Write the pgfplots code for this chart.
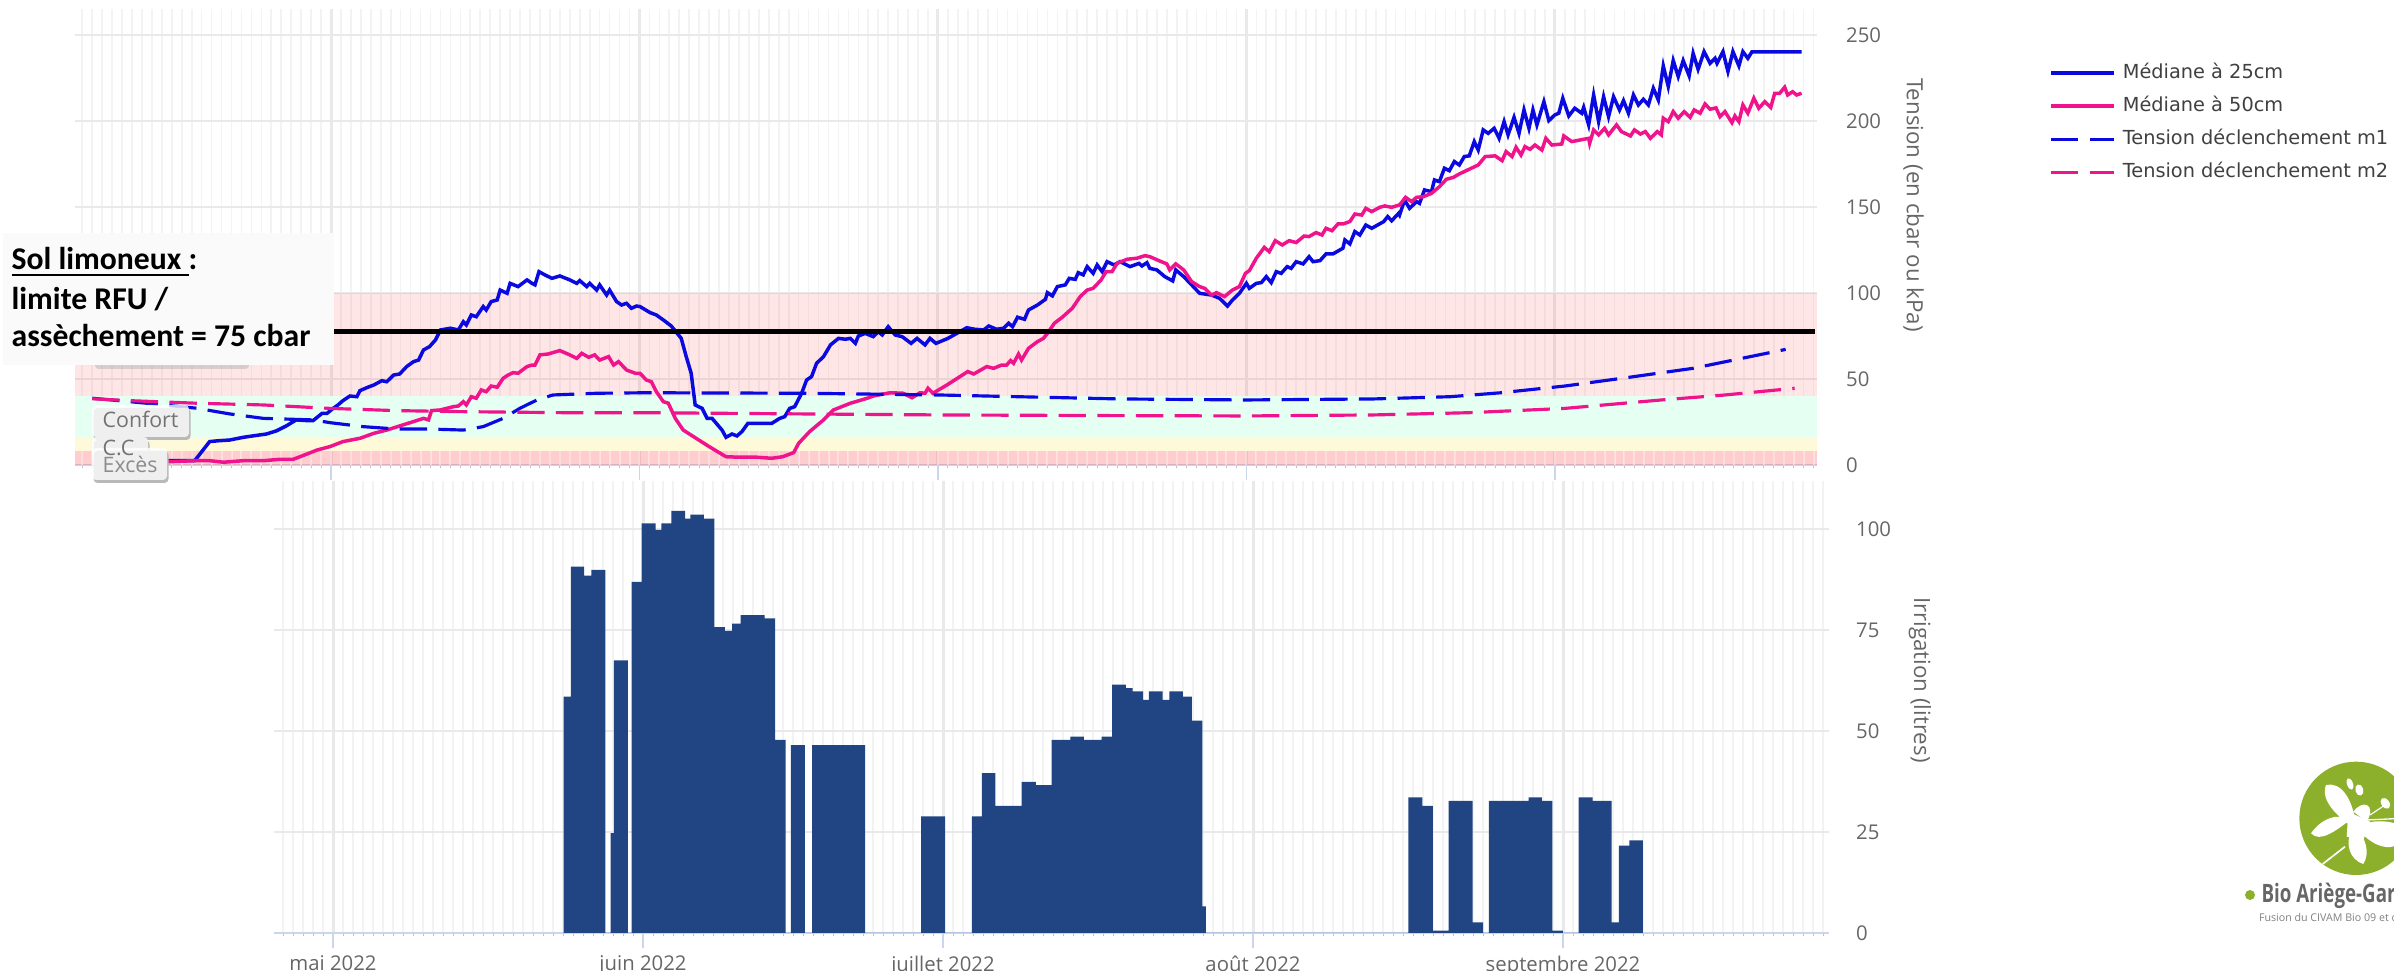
\documentclass[border=0pt]{standalone}
\usepackage{fontspec}
\setmainfont{Open Sans}
\newfontfamily\calib{Carlito}
\newfontfamily\legfont{DejaVu Sans}
\usepackage{pgfplots}
\pgfplotsset{compat=1.18}
\definecolor{gridc}{HTML}{E9E9E9}
\definecolor{minorc}{HTML}{F3F3F3}
\definecolor{axisc}{HTML}{CCD6EB}
\definecolor{labelc}{HTML}{666666}
\definecolor{blu}{HTML}{0A0AE0}
\definecolor{pnk}{HTML}{F0148C}
\definecolor{barc}{HTML}{214482}
\definecolor{logoc}{HTML}{8CB02C}
% 1 px of the reference = 0.3pt, x in days after 1 May 2022
\pgfplotsset{
  base/.style={
    scale only axis,
    axis x line=bottom, axis y line=right,
    axis line style={-},
    y axis line style={draw=none},
    x axis line style={draw=axisc,line width=.5pt},
    xtick={0,31,61,92,123},
    minor xtick={-25,-24,...,149},
    tick align=outside,
    major tick length=4.5pt, minor tick length=1pt,
    x tick style={draw=axisc,line width=.4pt},
    minor x tick style={draw=gray!50,line width=.3pt},
    y tick style={draw=none},
    xmajorgrids, xminorgrids, ymajorgrids,
    major x grid style={draw=gridc,line width=.9pt},
    minor x grid style={draw=minorc,line width=.5pt},
    major y grid style={draw=gridc,line width=.7pt},
    tick label style={font=\fontsize{6.1}{7}\selectfont,text=labelc},
    /pgf/number format/assume math mode=true,
  },
}
\begin{document}
\begin{tikzpicture}
\path[use as bounding box,clip] (0,0) rectangle (718.2pt,291.3pt);

\begin{axis}[base,
  at={(22.5pt,151.8pt)}, width=522.6pt, height=136.8pt,
  xmin=-25.73, xmax=149.35, ymin=0, ymax=265.1,
  ytick={0,50,100,150,200,250},
  yticklabel style={anchor=west,xshift=.7pt},
  xticklabels={},
  every axis y label/.style={at={(axis description cs:1.0555,0.57)},rotate=-90,anchor=center},
  ylabel={Tension (en cbar ou kPa)},
  ylabel style={font=\fontsize{6.7}{8}\selectfont,text=labelc},
  legend style={at={(1.133,0.898)},anchor=north west,draw=none,fill=none,
    font=\fontsize{5.8}{6.8}\legfont\color{black!75},row sep=-.2pt,
    inner sep=0pt},
  legend cell align=left,
  legend image code/.code={\draw[#1] (0pt,0pt) -- (19pt,0pt);},
]
% bands
\addplot[forget plot,fill=red!60!white,fill opacity=.16,draw=none] coordinates {(-25.73,8.3)(149.35,8.3)(149.35,100)(-25.73,100)} -- cycle;
\addplot[forget plot,fill=white,draw=none] coordinates {(-25.73,8.3)(149.35,8.3)(149.35,40.3)(-25.73,40.3)} -- cycle;
\addplot[forget plot,fill=green!50!cyan,fill opacity=.1,draw=none] coordinates {(-25.73,15.5)(149.35,15.5)(149.35,40.3)(-25.73,40.3)} -- cycle;
\addplot[forget plot,fill=yellow!80!orange,fill opacity=.15,draw=none] coordinates {(-25.73,8.3)(149.35,8.3)(149.35,15.5)(-25.73,15.5)} -- cycle;
\addplot[forget plot,fill=red!65!white,fill opacity=.3,draw=none] coordinates {(-25.73,0)(149.35,0)(149.35,8.3)(-25.73,8.3)} -- cycle;
% day stripes over the lowest band
\addplot[forget plot,ycomb,mark=none,white,opacity=.45,line width=.6pt] coordinates {
(-25,8.3)(-24,8.3)(-23,8.3)(-22,8.3)(-21,8.3)(-20,8.3)(-19,8.3)(-18,8.3)(-17,8.3)(-16,8.3)(-15,8.3)(-14,8.3)(-13,8.3)(-12,8.3)(-11,8.3)(-10,8.3)(-9,8.3)(-8,8.3)(-7,8.3)(-6,8.3)(-5,8.3)(-4,8.3)(-3,8.3)(-2,8.3)(-1,8.3)(0,8.3)(1,8.3)(2,8.3)(3,8.3)(4,8.3)(5,8.3)(6,8.3)(7,8.3)(8,8.3)(9,8.3)(10,8.3)(11,8.3)(12,8.3)(13,8.3)(14,8.3)(15,8.3)(16,8.3)(17,8.3)(18,8.3)(19,8.3)(20,8.3)(21,8.3)(22,8.3)(23,8.3)(24,8.3)(25,8.3)(26,8.3)(27,8.3)(28,8.3)(29,8.3)(30,8.3)(31,8.3)(32,8.3)(33,8.3)(34,8.3)(35,8.3)(36,8.3)(37,8.3)(38,8.3)(39,8.3)(40,8.3)(41,8.3)(42,8.3)(43,8.3)(44,8.3)(45,8.3)(46,8.3)(47,8.3)(48,8.3)(49,8.3)(50,8.3)(51,8.3)(52,8.3)(53,8.3)(54,8.3)(55,8.3)(56,8.3)(57,8.3)(58,8.3)(59,8.3)(60,8.3)(61,8.3)(62,8.3)(63,8.3)(64,8.3)(65,8.3)(66,8.3)(67,8.3)(68,8.3)(69,8.3)(70,8.3)(71,8.3)(72,8.3)(73,8.3)(74,8.3)(75,8.3)(76,8.3)(77,8.3)(78,8.3)(79,8.3)(80,8.3)(81,8.3)(82,8.3)(83,8.3)(84,8.3)(85,8.3)(86,8.3)(87,8.3)(88,8.3)(89,8.3)(90,8.3)(91,8.3)(92,8.3)(93,8.3)(94,8.3)(95,8.3)(96,8.3)(97,8.3)(98,8.3)(99,8.3)(100,8.3)(101,8.3)(102,8.3)(103,8.3)(104,8.3)(105,8.3)(106,8.3)(107,8.3)(108,8.3)(109,8.3)(110,8.3)(111,8.3)(112,8.3)(113,8.3)(114,8.3)(115,8.3)(116,8.3)(117,8.3)(118,8.3)(119,8.3)(120,8.3)(121,8.3)(122,8.3)(123,8.3)(124,8.3)(125,8.3)(126,8.3)(127,8.3)(128,8.3)(129,8.3)(130,8.3)(131,8.3)(132,8.3)(133,8.3)(134,8.3)(135,8.3)(136,8.3)(137,8.3)(138,8.3)(139,8.3)(140,8.3)(141,8.3)(142,8.3)(143,8.3)(144,8.3)(145,8.3)(146,8.3)(147,8.3)(148,8.3)(149,8.3)
};

\addplot[blu,line width=1.05pt] coordinates {
(-24,2.5)(-13.7,2.5)(-12.2,13.6)(-11.3,14.1)(-10.2,14.5)(-8.8,16.1)(-7.5,17.2)(-6.5,18)(-5.5,19.8)(-4.5,22.7)(-3.5,26.2)(-2.4,25.8)(-1.8,25.8)(-0.9,30)(-0.4,30)(0.1,32.4)(0.7,34.9)(1.2,37.4)(1.9,40.1)(2.6,39.7)(2.9,43.2)(3.7,45.2)(4.3,46.5)(5.1,49)(5.6,48.4)(6.3,52.3)(6.9,52.9)(7.6,57.2)(8.3,60.1)(8.8,61)(9.3,66.9)(9.9,68.8)(10.5,72.7)(11,78.5)(12,79.5)(12.8,78.5)(13.3,83.3)(13.6,81.4)(14.1,87.2)(14.6,86.2)(15.3,92.1)(15.6,90.1)(16.1,95)(16.7,95.9)(17,101.7)(17.7,99.8)(18,105.6)(18.8,103.7)(19.7,107.6)(20.2,105.6)(20.5,104.7)(20.9,112.4)(21.5,110.5)(22.2,108.5)(23,109.9)(24,107.6)(24.7,105.6)(25,107.2)(25.7,103.7)(26,105.6)(26.7,101.7)(27,104.7)(27.7,98.8)(28,101.7)(28.7,95)(29.2,93)(29.7,94)(30.2,91.1)(30.7,92.4)
(31.05,92.1)(32.06,88.6)(32.7,87.2)(33.4,84.3)(34.2,80.8)(35.2,73.6)(35.7,63)(36.2,53.3)(36.6,34.9)(37.3,32.9)(37.8,27.1)(38.3,27.1)(39.3,20.3)(39.7,16.1)(40.3,18)(40.8,16.9)(41.3,19.4)(41.9,24.2)(42.8,24.2)(44.3,24.2)(45.1,27.1)(45.6,28.1)(46.1,32.9)(46.6,33.9)(47.3,41.7)(47.8,49.4)(48.3,51.4)(48.8,59.1)(49.5,63)(50.2,69.8)(51,73.6)(51.7,73.1)(52.2,73.6)(52.7,70.7)(53,75)(53.7,76.5)(54.5,74.6)(55,77.5)(55.4,75.6)(56,80.4)(56.7,75.6)(57.4,74.6)(58.3,70.7)(58.9,73.6)(59.7,69.8)(60.2,73.6)(60.8,70.7)(62,73.6)(63.2,77.5)(63.9,79.8)(64.7,78.9)(65.6,78.5)(66.1,80.8)(66.9,78.9)(67.6,79.5)(68.1,82.4)(68.5,80.4)(69,85.9)(69.7,84.7)(70.1,90.1)(71,93)(71.8,96.3)(72,100.2)(72.5,98.3)(73,103.7)(73.8,104.7)(74.2,108.5)(74.8,107.9)(75.1,111.8)(75.6,110.5)(76,115.3)(76.6,111.4)(77,116.3)(77.5,112.4)(78,118.2)(78.7,116.3)(79.3,118.2)(80.3,115.3)(81.2,117.2)(81.5,115.7)(82,117.6)
(82.3,114.3)(83,113.4)(83.8,109.5)(84.6,107)(84.9,113.4)(85.7,109.5)(86.5,104.7)(87.3,99.8)(88.5,98.8)(89.3,96.9)(90.1,92.4)(90.6,95.9)(91.3,99.8)(92,105.6)(92.3,102.7)(93,105.6)(93.5,106)(94,109.5)(94.5,106)(95,112.4)(95.5,111.4)(96.1,115.3)(96.5,114.3)(97,118.2)(97.7,116.9)(98.3,121.1)(98.7,118.2)(99.4,118.8)(100,122.7)(100.7,122.7)(101.7,126)(101.9,130.8)(102.4,128.5)(102.9,135.7)(103.4,133.7)(104,139.5)(104.6,137.6)(105.8,141.5)(106.2,144.4)(106.6,142)(107.3,146.3)(107.4,145.3)(107.9,154)(108.4,149.2)(109.1,153.1)(109.4,152.1)(109.9,159.9)(110.6,158.9)(110.9,165.7)(111.4,164.7)(111.9,172.5)(112.4,171.1)(112.9,176.4)(113.4,174.4)(113.9,179.3)(114.4,179.7)(114.9,188)(115.3,183.1)
(115.8,194.8)(116.3,192.8)(116.9,195.7)(117.4,189.9)(117.9,199.6)(118.3,191.9)(118.9,202.1)(119.4,192.8)(119.9,206.4)(120.4,195.7)(120.8,206.4)(121.2,197.7)(121.9,211.2)(122.4,200.2)(123,203.5)(123.4,204.5)(123.8,213.2)(124.4,202.9)(125,207.4)(125.7,204.5)(125.9,207.9)(126.4,197.7)(126.9,215.1)(127.4,199.6)(127.9,214.1)(128.4,202.5)(128.9,214.1)(129.5,206.4)(129.9,211.8)(130.4,204.5)(130.9,215.1)(131.4,209.3)(131.9,212.6)(132.4,209.3)(132.9,219)(133.4,212.2)(133.9,232)(134.4,220)(134.9,235.1)(135.4,225.8)(135.9,235.1)(136.5,226.2)(136.9,239.3)(137.4,230)(138,240.3)(138.6,233.5)(139.1,236.4)(139.3,233.5)(139.9,240.3)(140.4,228.7)(140.9,240.3)(141.5,232)(141.9,240.3)(142.4,236.4)(142.8,240.1)(147.8,240.1)
};
\addlegendentry{Médiane à 25cm}

\addplot[pnk,line width=1.05pt] coordinates {
(-24,2.5)(-16.3,1.9)(-13.7,2.5)(-12.2,2.5)(-10.8,1.6)(-8.8,2.5)(-6.8,2.5)(-5.1,3.3)(-3.8,3.3)(-2.4,6.4)(-1.4,8.7)(-0.1,10.7)(1.2,13.6)(2.9,15.5)(4.3,18.4)(5.6,20.3)(6.9,22.7)(8.6,25.8)(9.3,27.1)(9.8,26.2)(10.1,31.6)(11,32)(12.3,33.9)(12.8,34.3)(13.3,36.8)(13.6,34.9)(14.1,39.7)(14.6,38.8)(15.1,43.6)(15.6,42.6)(16.1,45.9)(16.7,45.2)(17.3,50.4)(17.8,52.3)(18.3,53.7)(18.8,53.3)(19.7,57.2)(20.2,58.1)(20.5,58.1)(21,64)(21.8,64.5)(23,66.5)(24,64)(24.7,62)(25.2,64.9)(25.9,62.6)(26.5,64)(27,61)(27.9,63)(28.4,58.1)(28.9,60.1)(29.7,55.2)(30.6,53.3)
(31.05,53.3)(31.7,49.4)(32.2,48.4)(32.7,42.6)(33.4,36.8)(33.9,35.9)(34.6,27.1)(35.4,20.3)(36.7,15.5)(38,10.7)(39.7,4.8)(41.1,4.5)(42.8,4.5)(44.3,3.9)(45.4,4.8)(46.5,7.2)(47,12.6)(48.1,19.4)(49.5,26.2)(50.5,32)(52.2,35.9)(53.9,38.8)(54.5,40.1)(56.2,42)(57.5,41.7)(58.4,39.1)(59.2,42)(59.7,41.7)(60,44.6)(60.5,41.7)(61.9,46.5)(64,54.3)(64.6,52.9)(65.9,57.2)(66.6,56.2)(67.4,58.1)(67.9,58.1)(68.3,60.7)(68.6,59.1)(69.1,64.5)(69.4,61)(70.1,67.8)(71,71.7)(71.6,73.6)(72,76.5)(72.7,82.4)(73.5,85.9)(74.5,91.1)(75.3,97.9)(76,101.7)(76.6,102.7)(77.4,107.6)(77.9,112.4)(78.5,112.4)(79,117.2)(80,119.6)(81,120.2)(81.8,121.7)
(82.3,121.1)(83.2,118.8)(84,116.9)(84.3,113.4)(84.9,116.9)(85.7,113.4)(86.5,106.6)(87.3,103.7)(87.8,102.7)(88.5,98.8)(89,100.2)(89.8,97.9)(90.6,101.7)(91.3,103.7)(91.9,111.4)(92.3,113)(93,120.2)(93.8,126.5)(94.3,124)(94.9,130.4)(95.6,127.9)(96.3,130.4)(97,129.3)(97.8,133.1)(98.3,132.8)(99,135.1)(99.6,133.7)(100,137.6)(100.6,136.2)(101.2,140.1)(101.7,140.1)(102.4,141.5)(102.9,145.9)(103.6,145.3)(104,149.2)(104.6,147.3)(105.4,149.8)(105.9,150.6)(106.6,149.8)(107.4,151.2)(108,155.6)(108.6,153.1)(109.1,155.6)(109.8,156)(110.6,157.9)(111.4,161.8)(112.1,166.1)(112.8,167.2)(113.4,169.2)(114.6,172.5)(115.3,174.4)
(116,179.3)(117,179.7)(117.7,176.9)(118.1,182.2)(118.7,179.3)(119.1,184.7)(119.6,180.2)(120,185.1)(120.5,183.5)(121,186)(121.7,183.1)(122.1,189.9)(122.7,186)(123.7,186.6)(123.9,191.3)(124.7,188)(126.4,189.9)(126.5,187)(126.9,194.8)(127.4,191.9)(128,195.7)(128.4,191.9)(129.2,197.7)(129.7,193.8)(130.6,191.3)(131,194.8)(131.6,192.4)(132.1,193.8)(132.6,189.9)(133.3,193.8)(133.7,191.9)(133.9,201.6)(134.4,199.6)(134.9,205.4)(135.4,201.6)(136,205.4)(136.6,202.1)(137,206.4)(137.6,204.5)(138.1,209.9)(138.6,206.8)(139.2,207.6)(139.6,202.5)(140.1,205.4)(140.8,199)(141.1,202.9)(141.5,199.6)(141.9,209.3)(142.4,204.5)(143,213.2)(143.5,207.4)(144.1,211.2)(144.7,207.9)(145.1,216.1)(145.6,216.1)(146.1,219.6)(146.4,215.1)(146.9,217)(147.3,215.1)(147.8,216.1)
};
\addlegendentry{Médiane à 50cm}

\addplot[blu,line width=.95pt,dash pattern=on 8.2pt off 3.4pt] coordinates {
(-24,38.8)(-20.2,36.8)(-13.5,33)(-10.2,29.7)(-6.8,27.1)(-1.8,26.2)(-0.1,24.6)(3.2,22.3)(6.6,20.9)(9.9,20.9)(13.3,20.3)(15.3,22.3)(17.3,27.1)(19,33)(20.7,37.8)(22.3,40.7)(26.7,41.7)(31.7,42)(47.8,41.7)(61.1,40.7)(79.2,38.4)(92,37.8)(104.8,38.4)(112.5,39.7)(117.6,42)(124,45.9)(130.5,51)(136.9,56.2)(146.2,67.2)
};
\addlegendentry{Tension déclenchement m1}

\addplot[pnk,line width=.95pt,dash pattern=on 8.2pt off 3.4pt] coordinates {
(-24,38.5)(-20.2,37.4)(-13.5,35.9)(-6.8,34.9)(-0.1,32.9)(6.6,31.6)(13.3,31)(23.4,30.4)(31.7,30.4)(47.1,29.7)(61.1,29.1)(79.2,28.7)(92,28.5)(104.8,29.1)(114.4,30.4)(124,32.9)(133.7,37.8)(140.1,40.7)(147.1,44.6)
};
\addlegendentry{Tension déclenchement m2}

% limite RFU
\addplot[forget plot,black,line width=1.5pt] coordinates {(-25,77.5)(149.15,77.5)};
\end{axis}

\begin{axis}[base,
  at={(82.2pt,11.4pt)}, width=466.5pt, height=135.6pt,
  xmin=-5.9, xmax=149.6, ymin=0, ymax=111.9,
  ytick={0,25,50,75,100},
  yticklabel style={anchor=west,xshift=.1pt},
  xticklabels={mai 2022,juin 2022,juillet 2022,août 2022,septembre 2022},
  xticklabel style={yshift=1.2pt},
  every axis y label/.style={at={(axis description cs:1.0585,0.56)},rotate=-90,anchor=center},
  ylabel={Irrigation (litres)},
  ylabel style={font=\fontsize{6.7}{8}\selectfont,text=labelc},
]
\addplot[const plot,fill=barc,draw=none] coordinates {
(23.06,58.5)(23.78,90.7)(25.12,88.5)(25.84,89.9)(27.23,0)(27.75,24.7)(28.09,67.5)(29.48,0)(29.86,86.9)(30.86,101.4)(32.25,99.8)(32.83,101.4)(33.83,104.5)(35.22,102.6)(35.74,103.6)(37.08,102.6)(38.14,75.7)(39.19,74.8)(39.91,76.6)(40.77,78.7)(43.16,77.9)(44.21,47.8)(45.27,0)(45.79,46.5)(47.18,0)(47.90,46.5)(53.21,0)(58.81,28.9)(61.20,0)(63.88,28.9)(64.89,39.6)(66.23,31.5)(68.86,37.4)(70.29,36.6)(71.87,47.8)(73.74,48.6)(75.08,47.8)(76.85,48.6)(77.90,61.5)(79.29,60.6)(79.96,59.8)(81.01,57.7)(81.59,59.8)(82.97,57.7)(83.64,59.8)(84.98,58.5)(85.89,52.6)(86.94,6.6)(87.28,0)(107.54,33.6)(108.93,31.5)(109.98,0.6)(111.56,32.7)(113.95,2.6)(115.0,0)(115.58,32.7)(119.55,33.6)(120.89,32.7)(121.94,0.6)(122.99,0)(124.57,33.6)(125.96,32.7)(127.87,2.6)(128.59,21.6)(129.64,22.9)(130.98,0)
} \closedcycle;
\end{axis}

\begin{scope}[x=0.3pt,y=0.3pt]
% zone labels behind the note
\tikzset{tag/.style={fill=gray!60,rounded corners=1pt}}
\fill[tag,fill opacity=.5] (95,602) rectangle (249,634);
\foreach \xa/\ya/\xb/\yb in {92/534/189/566, 92/506/148/534, 92/491/167/523}{
  \fill[gray!55,rounded corners=1.2pt] (\xa+1.5,\ya-3) rectangle (\xb+1.5,\yb-3);
  \fill[white,fill opacity=.78,rounded corners=1.2pt] (\xa,\ya) rectangle (\xb,\yb);
}
\tikzset{zt/.style={anchor=base west,inner sep=0pt,text=black!55,font=\fontsize{6.4}{7}\selectfont}}
\node[zt] at (102,543) {Confort};
\node[zt] at (102,515) {C.C};
\node[zt,text=black!45] at (102,498) {Excès};
% note
\fill[white!98!black] (3,606) rectangle (334,738);
\tikzset{nt/.style={anchor=base west,inner sep=0pt,text=black,font=\fontsize{9.5}{11}\calib\bfseries}}
\node[nt] at (11,701) {\underline{Sol limoneux }:};
\node[nt] at (11,661) {limite RFU /};
\node[nt] at (11,624) {assèchement = 75 cbar};
\end{scope}

% logo
\begin{scope}[shift={(645pt,69.3pt)},x=0.1pt,y=-0.1pt]
\fill[logoc] (618,235) circle (170);
\fill[white] (620,270) .. controls (560,230) and (510,180) .. (528,135)
  .. controls (570,125) and (610,170) .. (620,270);
\fill[white] (600,240) .. controls (560,270) and (510,310) .. (483,280)
  .. controls (510,240) and (560,215) .. (600,240);
\fill[white] (610,260) .. controls (580,310) and (600,360) .. (640,372)
  .. controls (660,340) and (650,290) .. (610,260);
\fill[white] (620,265) .. controls (660,310) and (700,330) .. (735,318)
  -- (735,250) .. controls (700,240) and (650,240) .. (620,265);
\fill[white] (610,215) .. controls (640,175) and (680,195) .. (650,245) -- cycle;
\fill[white] (595,215) -- (660,245) -- (640,300) -- (590,290) -- cycle;
\draw[white,line width=.5pt] (518,372) -- (585,320);
\draw[white,line width=.4pt] (650,240) -- (735,236);
\draw[white,line width=.35pt] (660,225) -- (705,195);
\fill[white,rotate around={20:(600,132)}] (600,132) ellipse (9 and 18);
\fill[white,rotate around={15:(628,150)}] (628,150) ellipse (12 and 17);
\fill[white,rotate around={35:(706,190)}] (706,190) ellipse (12 and 18);
\fill[logoc] (300,465) circle (15);
\node[anchor=base west,inner sep=0pt,xscale=.74,text=black!60,font=\fontsize{7.6}{9}\selectfont\bfseries] at (333,487) {Bio Ariège-Gar};
\node[anchor=base west,inner sep=0pt,text=black!50,font=\fontsize{3.2}{4}\selectfont] at (325,545) {Fusion du CIVAM Bio 09 et d};
\end{scope}
\end{tikzpicture}
\end{document}
